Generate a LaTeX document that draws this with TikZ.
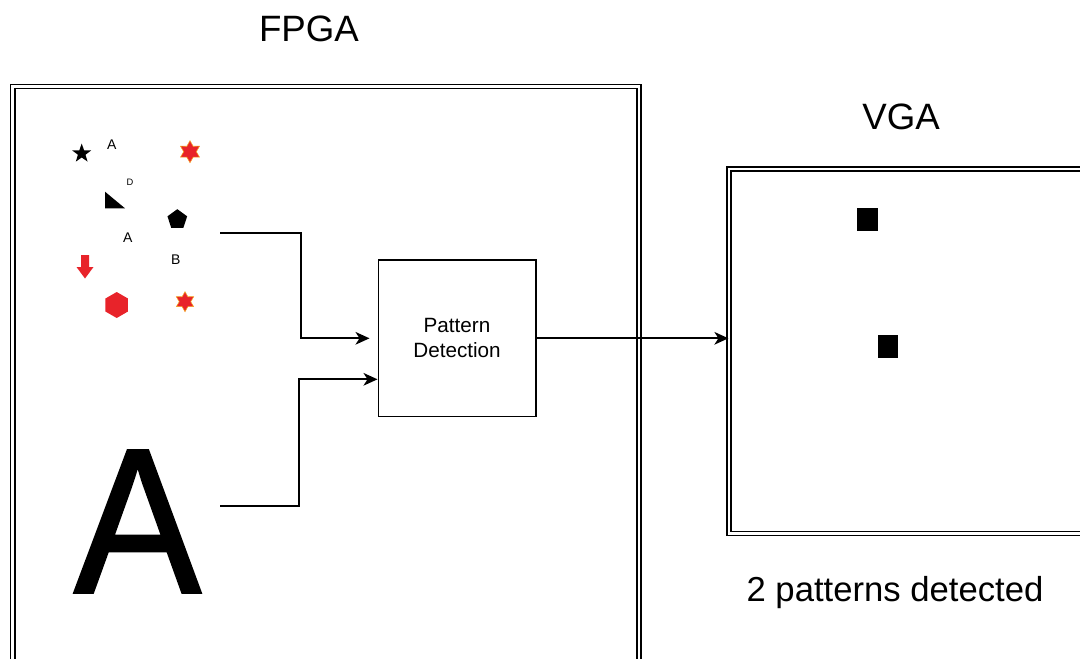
\documentclass[tikz,border=0pt]{standalone}
\usepackage{fontspec}
\setmainfont{Liberation Sans}
\usetikzlibrary{shapes.geometric,arrows.meta}
\definecolor{shred}{HTML}{E8232A}
\definecolor{shorange}{HTML}{F5A623}
\tikzset{
  frame/.style={draw, double, double distance=1.9pt, line width=1.15pt, inner sep=0pt},
  block/.style={draw, line width=1.25pt, inner sep=0pt, minimum width=118pt, minimum height=117.5pt, align=center, font=\fontsize{15.5pt}{18.75pt}\selectfont},
  conn/.style={line width=1.25pt, -{Stealth[length=10.5pt, width=9.5pt, inset=3pt]}},
  title/.style={anchor=base, inner sep=0pt, font=\fontsize{27.5pt}{32pt}\selectfont},
  small/.style={anchor=base, inner sep=0pt, font=\fontsize{10.5pt}{12pt}\selectfont},
  sixstar/.style={star, star points=6, star point ratio=1.75, fill=shred, draw=shorange, line width=0.4pt, inner sep=0pt},
}
\begin{document}
\begin{tikzpicture}[x=0.75pt, y=-0.75pt]
\useasboundingbox (0,0) rectangle (1080,658);
\clip (0,0) rectangle (1080,658);
\fill[white] (0,0) rectangle (1080,658);

% titles
\node[title] (fpgat) at (309,41.7) {FPGA};
\node[title] (vgat) at (901,129.3) {VGA};
\node[anchor=base, inner sep=0pt, font=\fontsize{26pt}{30pt}\selectfont] (result) at (895,601.7) {2 patterns detected};

% frames
\node[frame, minimum width=469.7pt, minimum height=460pt] (fpga) at (325.85,393.25) {};
\node[frame, minimum width=278pt, minimum height=273.4pt] (vga) at (914.5,351.25) {};

% processing block
\node[block] (pd) at (457,338.3) {Pattern\\Detection};

% small shapes
\node[star, star points=5, star point ratio=2.5, fill=black, inner sep=0pt, minimum size=15pt] (st1) at (81.7,153.5) {};
\node[small] (la1) at (111.7,149) {A};
\node[sixstar, minimum size=16.5pt] (rs1) at (190,151.7) {};
\node[anchor=base, inner sep=0pt, font=\fontsize{7pt}{8pt}\selectfont] (ld) at (130,185) {D};
\fill (105,191.7) -- (105,208.3) -- (125,208.3) -- cycle;
\node[regular polygon, regular polygon sides=5, fill=black, inner sep=0pt, minimum size=15.5pt] (pent) at (177.3,219.5) {};
\node[small] (la2) at (127.7,242.7) {A};
\node[small] (lb) at (175.7,264) {B};
\fill[shred] (81,255) -- (89,255) -- (89,267) -- (93.5,267) -- (85,278.5) -- (76.5,267) -- (81,267) -- cycle;
\node[regular polygon, regular polygon sides=6, shape border rotate=30, fill=shred, inner sep=0pt, minimum size=19.5pt] (hex) at (116.7,305) {};
\node[sixstar, minimum size=15pt] (rs2) at (185,301.7) {};

% big letter (stroked to match the heavier weight)
\node[anchor=base, inner sep=0pt, xscale=0.92, transform shape, font=\fontsize{155pt}{160pt}\selectfont] (biga) at (137.5,592.5) {\special{pdf:literal 2 Tr 2 w}A\special{pdf:literal 0 Tr 1 w}};

% detected patterns on the VGA screen
\fill (856.7,207.7) rectangle (877.7,231);
\fill (878.3,335) rectangle (897.7,358.3);

% connectors
\coordinate (src1) at (220,233.3);
\coordinate (src2) at (220,505.7);
\coordinate (in1) at ([xshift=-6pt]pd.west);
\coordinate (in2) at ([yshift=-30.75pt]pd.west);
\draw[conn] (src1) -- (301,233.3) |- (in1);
\draw[conn] (src2) -- (299,505.7) |- (in2);
\draw[conn] (pd.east) -- (vga.west |- pd.east);
\end{tikzpicture}
\end{document}
